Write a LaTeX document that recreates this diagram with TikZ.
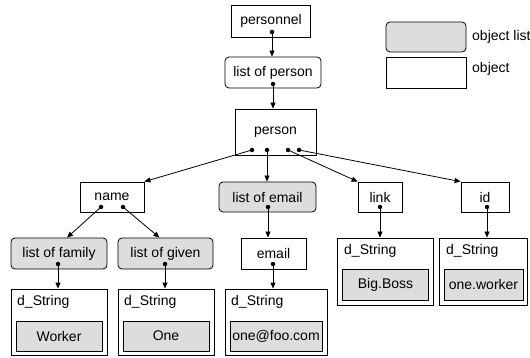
\documentclass[tikz,border=0pt]{standalone}
\usepackage{fontspec}
\setmainfont{Liberation Sans}
\usetikzlibrary{arrows.meta,calc}
\definecolor{boxgray}{HTML}{DDDDDD}
\tikzset{
  obj/.style={draw, line width=0.8pt, inner sep=0pt, font=\fontsize{14}{16}\selectfont},
  olist/.style={obj, fill=boxgray, rounded corners=4pt},
  rlist/.style={obj, fill=white, rounded corners=4pt},
  val/.style={obj, fill=boxgray},
  lbl/.style={inner sep=0pt, anchor=west, font=\fontsize{14}{16}\selectfont},
  arr/.style={line width=0.8pt, -{Triangle[length=6pt,width=5pt]}},
  dot/.style={circle, fill=black, inner sep=0pt, minimum size=4.5pt}
}
\begin{document}
\begin{tikzpicture}[x=1pt,y=-1pt]
\useasboundingbox (0,0) rectangle (530,358);
% legend
\node[olist, minimum width=80pt, minimum height=30pt] (legl) at (426,37) {};
\node[lbl] (leglt) at (472,37) {object list};
\node[obj, minimum width=80pt, minimum height=31pt] (lego) at (426,72.5) {};
\node[lbl] (legot) at (472,69) {object};
% main nodes
\node[obj, minimum width=79pt, minimum height=32pt] (personnel) at (271,21) {personnel};
\node[rlist, minimum width=96pt, minimum height=31pt] (lop) at (273,72.5) {list of person};
\node[obj, minimum width=81pt, minimum height=46pt] (person) at (275.5,132) {person};
\node[obj, minimum width=64pt, minimum height=30pt] (name) at (112,197) {name};
\node[olist, minimum width=97pt, minimum height=30pt] (lem) at (267.5,197) {list of email};
\node[obj, minimum width=44pt, minimum height=30pt] (link) at (380,197) {link};
\node[obj, minimum width=48pt, minimum height=30pt] (id) at (485,197) {id};
\node[olist, minimum width=96pt, minimum height=31pt] (lfam) at (59,253.5) {list of family};
\node[olist, minimum width=95pt, minimum height=31pt] (lgiv) at (165.5,253.5) {list of given};
\node[obj, minimum width=65pt, minimum height=31pt] (email) at (273.5,253.5) {email};
% d_String boxes
\node[obj, minimum width=96pt, minimum height=66pt] (ds1) at (59,322) {};
\node[lbl] (ds1t) at (17,301.5) {d\_String};
\node[val, minimum width=86pt, minimum height=30pt] (v1) at (59,336) {Worker};
\node[obj, minimum width=96pt, minimum height=66pt] (ds2) at (166,322) {};
\node[lbl] (ds2t) at (124,301.5) {d\_String};
\node[val, minimum width=86pt, minimum height=30pt] (v2) at (166,336) {One};
\node[obj, minimum width=102pt, minimum height=66pt] (ds3) at (276,322) {};
\node[lbl] (ds3t) at (231,301.5) {d\_String};
\node[val, minimum width=92pt, minimum height=30pt] (v3) at (276,336) {one@foo.com};
\node[obj, minimum width=96pt, minimum height=67pt] (ds4) at (385,271.5) {};
\node[lbl] (ds4t) at (344,250.5) {d\_String};
\node[val, minimum width=86pt, minimum height=31pt] (v4) at (385.5,284.5) {Big.Boss};
\node[obj, minimum width=88pt, minimum height=67pt] (ds5) at (483,271.5) {};
\node[lbl] (ds5t) at (446,250.5) {d\_String};
\node[val, minimum width=79pt, minimum height=31pt] (v5) at (483.5,284.5) {one.worker};
% dots
\node[dot] (d0) at (272,32) {};
\node[dot] (d1) at (273,84) {};
\node[dot] (pa) at (252,150) {};
\node[dot] (pb) at (267,150) {};
\node[dot] (pc) at (288,150) {};
\node[dot] (pd) at (299,150) {};
\node[dot] (na) at (101,207) {};
\node[dot] (nb) at (123,207) {};
\node[dot] (le) at (268,207) {};
\node[dot] (lk) at (380,207) {};
\node[dot] (di) at (487,207) {};
\node[dot] (lf) at (58,264) {};
\node[dot] (lg) at (165,264) {};
\node[dot] (em) at (273,264) {};
% connectors
\draw[arr] (d0.center) -- (d0.center |- lop.north);
\draw[arr] (d1.center) -- (d1.center |- person.north);
\draw[arr] (pa.center) -- (name.north east);
\draw[arr] (pb.center) -- (pb.center |- lem.north);
\draw[arr] (pc.center) -- (link.north west);
\draw[arr] (pd.center) -- (id.north west);
\draw[arr] (na.center) -- ($(lfam.north)+(8,0)$);
\draw[arr] (nb.center) -- ($(lgiv.north)+(-6,0)$);
\draw[arr] (le.center) -- (le.center |- email.north);
\draw[arr] (lk.center) -- (lk.center |- ds4.north);
\draw[arr] (di.center) -- (di.center |- ds5.north);
\draw[arr] (lf.center) -- (lf.center |- ds1.north);
\draw[arr] (lg.center) -- (lg.center |- ds2.north);
\draw[arr] (em.center) -- (em.center |- ds3.north);
\end{tikzpicture}
\end{document}
